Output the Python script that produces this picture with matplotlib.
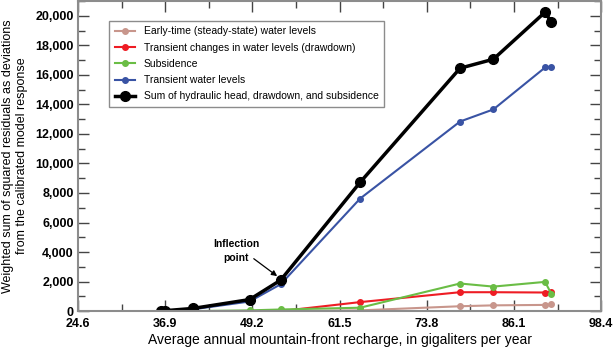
import matplotlib.pyplot as plt
from matplotlib.ticker import MultipleLocator, FuncFormatter

plt.rcParams['font.family'] = ['Liberation Sans', 'DejaVu Sans']

# recharge, in gigaliters per year
recharge = [36.3, 36.9, 40.8, 48.8, 53.2, 64.4, 78.5, 83.2, 90.5, 91.4]

steady_state = [0, 0, 0, 0, 0, 50, 330, 390, 420, 450]
drawdown = [0, 0, 0, 0, 0, 610, 1280, 1280, 1260, 1280]
subsidence = [0, 0, 0, 50, 110, 230, 1870, 1660, 1980, 1150]
transient = [0, 20, 120, 650, 1820, 7620, 12840, 13660, 16500, 16560]
total = [0, 30, 180, 780, 2100, 8720, 16450, 17060, 20250, 19550]

x_ticks = [24.6, 36.9, 49.2, 61.5, 73.8, 86.1, 98.4]

fig = plt.figure(figsize=(6.14, 3.48), dpi=100)
ax = fig.add_axes([0.127, 0.106, 0.852, 0.891])

ax.plot(recharge, steady_state, '-o', color='#c8968c', lw=1.5, ms=4,
        label='Early-time (steady-state) water levels')
ax.plot(recharge, drawdown, '-o', color='#ee1c24', lw=1.5, ms=4,
        label='Transient changes in water levels (drawdown)')
ax.plot(recharge, subsidence, '-o', color='#6abd45', lw=1.5, ms=4,
        label='Subsidence')
ax.plot(recharge, transient, '-o', color='#3953a4', lw=1.5, ms=4,
        label='Transient water levels')
ax.plot(recharge, total, '-o', color='black', lw=2.5, ms=7,
        label='Sum of hydraulic head, drawdown, and subsidence')

ax.text(46.9, 4100, 'Inflection\npoint', ha='center', va='center',
        fontsize=7.5, fontweight='bold', linespacing=1.5)
ax.annotate('', xy=(52.7, 2370), xytext=(49.4, 3550),
            arrowprops=dict(arrowstyle='-|>', color='black', lw=0.9,
                            mutation_scale=8, shrinkA=0, shrinkB=0))

ax.set_xlim(24.6, 98.4)
ax.set_ylim(0, 21000)
ax.set_xticks(x_ticks)
ax.set_xticklabels(['%.1f' % v for v in x_ticks])
ax.xaxis.set_minor_locator(MultipleLocator(6.15))
ax.yaxis.set_major_locator(MultipleLocator(2000))
ax.yaxis.set_minor_locator(MultipleLocator(1000))
ax.yaxis.set_major_formatter(FuncFormatter(lambda v, p: '{:,.0f}'.format(v)))

ax.tick_params(which='both', direction='in', top=True, right=True,
               color='#444444', labelsize=9, pad=3)
ax.tick_params(axis='x', which='major', pad=5)
ax.tick_params(which='major', length=8, width=1)
ax.tick_params(which='minor', length=5, width=1)
for lab in ax.get_xticklabels() + ax.get_yticklabels():
    lab.set_fontweight('bold')
for sp in ax.spines.values():
    sp.set_color('#8c8c8c')
    sp.set_linewidth(1.5)

ax.set_xlabel('Average annual mountain-front recharge, in gigaliters per year',
              fontsize=10, labelpad=2)
ax.set_ylabel('Weighted sum of squared residuals as deviations\n'
              'from the calibrated model response', fontsize=9,
              linespacing=1.3, labelpad=5)

leg = ax.legend(loc='upper left', bbox_to_anchor=(0.06, 0.935), fontsize=7.5,
                fancybox=False, edgecolor='#8c8c8c', framealpha=1,
                handlelength=2.0, handletextpad=0.8, borderpad=0.5,
                labelspacing=0.6, borderaxespad=0)
leg.get_frame().set_linewidth(1.0)

fig.savefig('out.png', dpi=100)
